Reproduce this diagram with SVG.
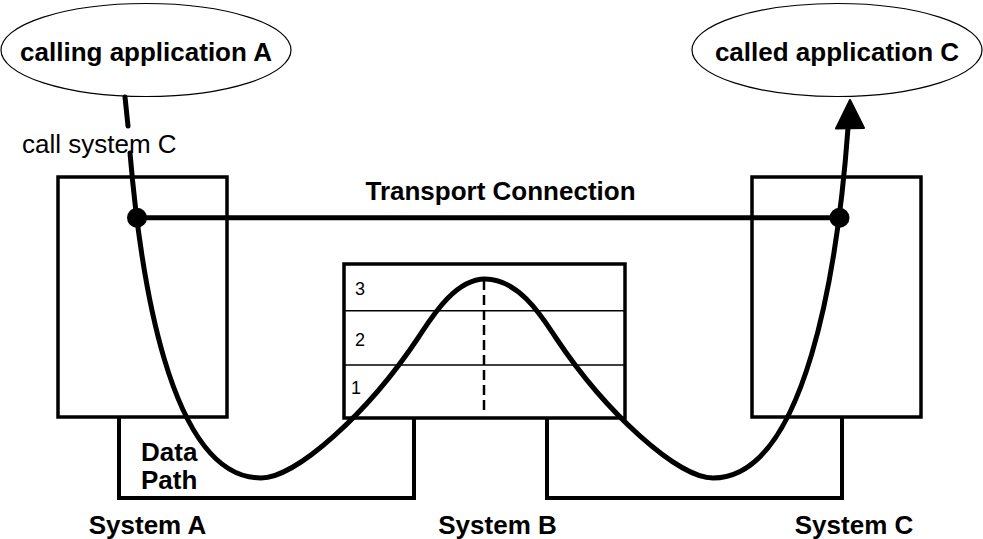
<svg xmlns="http://www.w3.org/2000/svg" width="983" height="539" viewBox="0 0 983 539">
  <style>
    .bold { font-family: "Liberation Sans", Arial, sans-serif; font-weight: bold; font-size: 26px; fill: #000; }
    .plain { font-family: "Liberation Sans", Arial, sans-serif; font-size: 26px; fill: #000; }
    .layer { font-family: "Liberation Sans", Arial, sans-serif; font-size: 18px; fill: #000; }
    .app { fill: #fff; stroke: #000; stroke-width: 1.2; }
    .sys { fill: #fff; stroke: #000; stroke-width: 3.5; }
    .bracket { fill: none; stroke: #000; stroke-width: 4; stroke-linejoin: miter; }
    .divider { stroke: #000; stroke-width: 1.5; }
    .path { fill: none; stroke: #000; stroke-width: 5; stroke-linecap: round; stroke-linejoin: round; }
  </style>
  <rect width="983" height="539" fill="#fff"/>

  <!-- applications -->
  <g id="app-a">
    <ellipse class="app" cx="146" cy="50" rx="145" ry="46.5"/>
    <text class="bold" x="146" y="61" text-anchor="middle">calling application A</text>
  </g>
  <g id="app-c">
    <ellipse class="app" cx="837" cy="50" rx="145" ry="46.5"/>
    <text class="bold" x="837" y="61" text-anchor="middle">called application C</text>
  </g>

  <!-- systems -->
  <g id="system-a">
    <rect class="sys" x="58" y="177" width="169" height="240"/>
    <text class="bold" x="147.5" y="534" text-anchor="middle">System A</text>
  </g>
  <g id="system-b">
    <rect class="sys" x="344" y="264" width="281" height="154"/>
    <line class="divider" x1="344" y1="310.7" x2="625" y2="310.7"/>
    <line class="divider" x1="344" y1="365" x2="625" y2="365"/>
    <text class="layer" x="355" y="295">3</text>
    <text class="layer" x="355" y="346">2</text>
    <text class="layer" x="351" y="394">1</text>
    <line x1="484" y1="280" x2="484" y2="413" stroke="#000" stroke-width="2.5" stroke-dasharray="10,5"/>
    <text class="bold" x="497.5" y="534" text-anchor="middle">System B</text>
  </g>
  <g id="system-c">
    <rect class="sys" x="752" y="177" width="169" height="240"/>
    <text class="bold" x="854" y="534" text-anchor="middle">System C</text>
  </g>

  <!-- data path labels -->
  <g id="data-path-label">
    <text class="bold" x="141" y="461">Data</text>
    <text class="bold" x="141" y="489">Path</text>
  </g>

  <g id="call-label">
    <text class="plain" x="22" y="153">call system C</text>
  </g>

  <g id="transport-label">
    <text class="bold" x="500.5" y="200" text-anchor="middle">Transport Connection</text>
  </g>

  <g id="connectors">
    <!-- physical links between systems -->
    <polyline class="bracket" points="119,417 119,498 414,498 414,418"/>
    <polyline class="bracket" points="547,418 547,498 842,498 842,417"/>

    <!-- transport connection -->
    <line x1="137" y1="217.7" x2="840" y2="217.7" stroke="#000" stroke-width="5"/>
    <circle cx="137" cy="217.7" r="10" fill="#000"/>
    <circle cx="839.5" cy="217.7" r="10" fill="#000"/>

    <!-- call path from A down through B and up to C -->
    <line class="path" x1="125" y1="97" x2="128" y2="126"/>
    <path class="path" d="M130,153
      C140,270 168,478 261,478
      C296,478 368,413 418,338
      C430,320 454,279 485,279
      C520,279 544,320 556,338
      C606,413 678,478 713,478
      C806,478 838,265 848,128"/>
    <polygon points="850,100 836,128.5 864,128" fill="#000" stroke="#000" stroke-width="2" stroke-linejoin="round"/>
  </g>
</svg>
